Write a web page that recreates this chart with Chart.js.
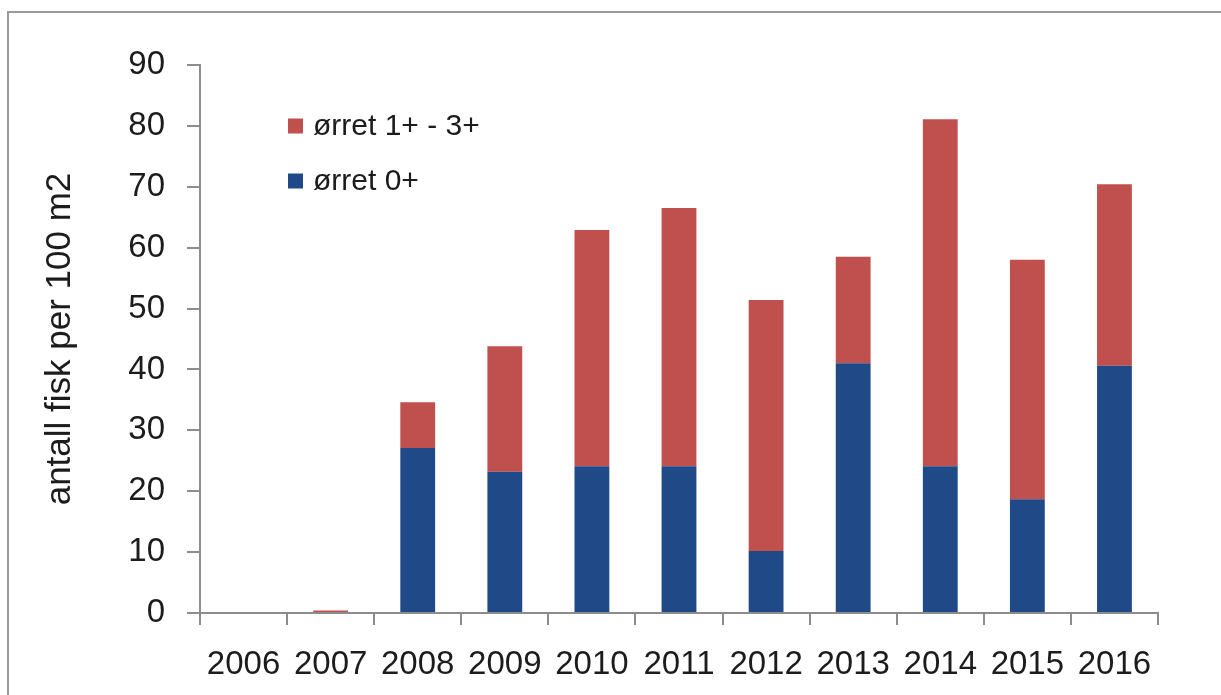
<!DOCTYPE html>
<html>
<head>
<meta charset="utf-8">
<script src="https://cdn.jsdelivr.net/npm/chart.js@4"></script>
<style>
  html, body { margin: 0; padding: 0; background: #fff; }
  #wrap { position: relative; width: 1221px; height: 695px; }
</style>
</head>
<body>
<div id="wrap"><canvas id="c" width="1221" height="695"></canvas></div>
<script>
const years = ['2006','2007','2008','2009','2010','2011','2012','2013','2014','2015','2016'];
const orret0 = [0, 0, 27.1, 23.2, 24.1, 24.1, 10.2, 41.0, 24.1, 18.7, 40.6];
const orret1til3 = [0, 0.4, 7.5, 20.6, 38.8, 42.4, 41.2, 17.5, 57.0, 39.3, 29.8];
const yTitle = 'antall fisk per 100 m2';
const label0 = 'ørret 0+';
const label13 = 'ørret 1+ - 3+';

const FONT = "'Liberation Sans', Arial, Helvetica, sans-serif";
const TEXT = '#1c1c1c';
const AXIS = '#8c8c8c';
const RED = '#c0504d';
const BLUE = '#1f4a87';

const framePlugin = {
  id: 'frame',
  beforeDraw(chart) {
    const ctx = chart.ctx;
    ctx.save();
    ctx.fillStyle = '#ffffff';
    ctx.fillRect(0, 0, chart.width, chart.height);
    ctx.strokeStyle = '#9a9a9a';
    ctx.lineWidth = 2;
    ctx.beginPath();
    ctx.moveTo(8, chart.height);
    ctx.lineTo(8, 12);
    ctx.lineTo(chart.width, 12);
    ctx.stroke();
    ctx.restore();
  }
};

const legendPlugin = {
  id: 'inLegend',
  afterDraw(chart) {
    const ctx = chart.ctx;
    const items = [chart.data.datasets[1], chart.data.datasets[0]];
    const x = 288, ys = [126, 181], sq = 15;
    ctx.save();
    ctx.font = '30px ' + FONT;
    ctx.textBaseline = 'middle';
    ctx.textAlign = 'left';
    items.forEach((ds, i) => {
      ctx.fillStyle = ds.backgroundColor;
      ctx.fillRect(x, ys[i] - sq / 2, sq, sq);
      ctx.fillStyle = TEXT;
      ctx.fillText(ds.label, x + 25, ys[i] + 1);
    });
    ctx.restore();
  }
};

new Chart(document.getElementById('c'), {
  type: 'bar',
  data: {
    labels: years,
    datasets: [
      { label: label0, data: orret0, backgroundColor: BLUE, stack: 's' },
      { label: label13, data: orret1til3, backgroundColor: RED, stack: 's' }
    ]
  },
  options: {
    responsive: false,
    animation: false,
    layout: { padding: { left: 0, top: 65, right: 63, bottom: 0 } },
    plugins: { legend: { display: false }, tooltip: { enabled: false } },
    datasets: { bar: { categoryPercentage: 1, barPercentage: 0.4 } },
    scales: {
      x: {
        stacked: true,
        offset: true,
        grid: { offset: true, drawOnChartArea: false, drawTicks: true, tickLength: 12, color: AXIS, lineWidth: 2 },
        border: { display: true, color: AXIS, width: 2 },
        ticks: { color: TEXT, font: { family: FONT, size: 33 }, padding: 20, maxRotation: 0 },
        afterFit(s) { s.height = 82; }
      },
      y: {
        stacked: true,
        min: 0, max: 90,
        grid: { drawOnChartArea: false, drawTicks: true, tickLength: 13, color: AXIS, lineWidth: 2 },
        border: { display: true, color: AXIS, width: 2 },
        ticks: { stepSize: 10, color: TEXT, font: { family: FONT, size: 33 }, padding: 22 },
        title: { display: true, text: yTitle, color: TEXT, font: { family: FONT, size: 35 }, padding: { top: 39, bottom: 0 } },
        afterFit(s) { s.width = 200; }
      }
    }
  },
  plugins: [framePlugin, legendPlugin]
});
</script>
</body>
</html>
